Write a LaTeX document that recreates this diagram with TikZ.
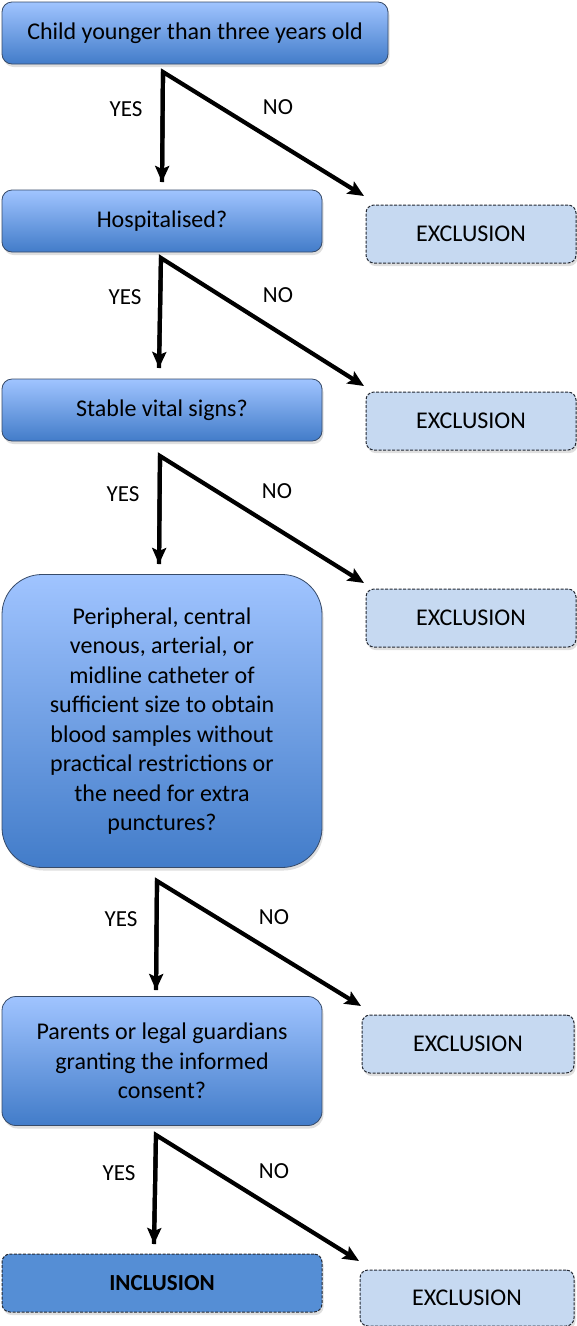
\documentclass[tikz,border=0pt]{standalone}
\usepackage{fontspec}
\setmainfont{Carlito}
\usetikzlibrary{shadows,arrows.meta}
\definecolor{topc}{RGB}{160,196,255}
\definecolor{botc}{RGB}{66,124,201}
\definecolor{bordc}{RGB}{55,75,105}
\definecolor{exbord}{RGB}{35,40,50}
\definecolor{exfill}{RGB}{198,217,241}
\definecolor{infill}{RGB}{85,142,213}
\begin{document}
\begin{tikzpicture}[x=1pt,y=-1pt,
  qbox/.style={rounded corners=10pt, draw=bordc, line width=0.8pt, top color=topc, bottom color=botc,
    drop shadow={opacity=0.25, shadow xshift=1.5pt, shadow yshift=-3pt},
    align=center, font=\fontsize{24}{29.5}\selectfont, inner sep=0pt},
  exbox/.style={rounded corners=8pt, draw=exbord, dash pattern=on 3pt off 1.5pt, line width=1pt, fill=exfill,
    drop shadow={opacity=0.25, shadow xshift=1.5pt, shadow yshift=-3pt},
    minimum width=210pt, minimum height=58pt, inner sep=0pt, font=\fontsize{24}{28}\selectfont},
  inbox/.style={rounded corners=8pt, draw=exbord, dash pattern=on 3pt off 1.5pt, line width=1pt, fill=infill,
    drop shadow={opacity=0.25, shadow xshift=1.5pt, shadow yshift=-3pt},
    minimum width=320pt, minimum height=58pt, inner sep=0pt, font=\fontsize{23}{28}\selectfont\bfseries},
  arr/.style={line width=4.2pt, -{Stealth[length=16pt,width=14pt,inset=3pt]}},
  lbl/.style={font=\fontsize{23}{26}\selectfont},
]
\useasboundingbox (0,0) rectangle (576,1326);

% question boxes
\node[qbox, minimum width=386pt, minimum height=62pt] (q1) at (195,33) {Child younger than three years old};
\node[qbox, minimum width=320pt, minimum height=62pt] (q2) at (162,221) {Hospitalised?};
\node[qbox, minimum width=320pt, minimum height=62pt] (q3) at (162,410) {Stable vital signs?};
\node[qbox, rounded corners=40pt, minimum width=320pt, minimum height=293pt] (q4) at (162,721)
  {Peripheral, central\\venous, arterial, or\\midline catheter of\\sufficient size to obtain\\blood samples without\\practical restrictions or\\the need for extra\\punctures?};
\node[qbox, rounded corners=14pt, minimum width=320pt, minimum height=129pt] (q5) at (162,1061)
  {Parents or legal guardians\\granting the informed\\consent?};
\node[inbox] (inc) at (162,1283) {INCLUSION};

% exclusion boxes
\node[exbox] (e1) at (471,234) {EXCLUSION};
\node[exbox] (e2) at (471,421) {EXCLUSION};
\node[exbox] (e3) at (471,618) {EXCLUSION};
\node[exbox, minimum width=212pt] (e4) at (468,1044) {EXCLUSION};
\node[exbox, minimum width=214pt, minimum height=56pt] (e5) at (467,1298) {EXCLUSION};

% branching points
\coordinate (a1) at (163,72);
\coordinate (a2) at (161,258);
\coordinate (a3) at (160,456);
\coordinate (a4) at (157,881);
\coordinate (a5) at (156,1135);

% end points
\coordinate (y1) at (162,182);
\coordinate (n1) at (364,196);
\coordinate (y2) at (159,368);
\coordinate (n2) at (364,386);
\coordinate (y3) at (159,564);
\coordinate (n3) at (364,583);
\coordinate (y4) at (156,990);
\coordinate (n4) at (361,1006);
\coordinate (y5) at (154,1244);
\coordinate (n5) at (359,1261);

\foreach \i in {1,...,5}{
  \draw[arr, line join=miter] (y\i) -- (a\i) -- (n\i);
  \draw[arr] (a\i) -- (y\i);
}

% labels
\node[lbl] at (126,109) {YES};
\node[lbl] at (278,107) {NO};
\node[lbl] at (125,297) {YES};
\node[lbl] at (278,295) {NO};
\node[lbl] at (123,494) {YES};
\node[lbl] at (277,491) {NO};
\node[lbl] at (121,919) {YES};
\node[lbl] at (274,917) {NO};
\node[lbl] at (119,1173) {YES};
\node[lbl] at (274,1171) {NO};
\end{tikzpicture}
\end{document}
